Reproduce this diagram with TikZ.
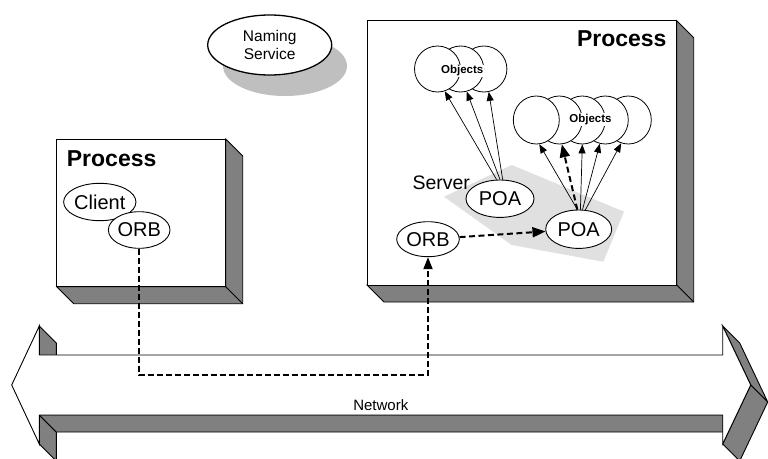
\documentclass[tikz,border=0pt]{standalone}
\usepackage{fontspec}
\setmainfont{Liberation Sans}
\usetikzlibrary{shapes.geometric,arrows.meta}

\tikzset{
    part/.style={ellipse, draw, fill=white, line width=0.9pt, inner sep=0pt, font=\fontsize{20}{24}\selectfont},
    obj/.style={ellipse, draw, fill=white, line width=0.8pt, minimum width=46pt, minimum height=46pt},
    objlabel/.style={fill=white, inner sep=1pt, font=\bfseries\fontsize{11.5}{13}\selectfont},
    title/.style={font=\bfseries\fontsize{23}{26}\selectfont, inner sep=0pt},
    callarrow/.style={-{Triangle[length=9pt,width=7pt]}, line width=0.7pt},
    bigroute/.style={-{Triangle[length=13pt,width=10pt]}, line width=2pt, dash pattern=on 6pt off 3.5pt},
    netroute/.style={-{Triangle[length=12pt,width=9pt]}, line width=1.8pt, dash pattern=on 6pt off 3pt}
}

\begin{document}
\begin{tikzpicture}[x=1pt,y=-1pt]
    \useasboundingbox (0,0) rectangle (768,458);
    \clip (0,0) rectangle (768,458);

    % Process boxes with their grey depth
    \foreach \xa/\ya/\xb/\yb in {56.7/139/225.7/286.7, 367/20.7/676.7/285} {
            \filldraw[fill=black!50, line width=0.9pt] (\xb,\ya) -- (\xb+17,\ya+17) -- (\xb+17,\yb+17) -- (\xa+17,\yb+17) -- (\xa,\yb) -- (\xb,\yb) -- cycle;
            \draw[line width=0.9pt] (\xb,\yb) -- (\xb+17,\yb+17);
            \filldraw[fill=white, line width=0.9pt] (\xa,\ya) rectangle (\xb,\yb);
        }
    \node[title, anchor=base west] (procL) at (66.7,166) {Process};
    \node[title, anchor=base east] (procR) at (666.7,46.7) {Process};

    % Server area
    \fill[black!12] (444,196.7) -- (511.7,165) -- (624,211.7) -- (603.3,261.7) -- (511.7,245) -- cycle;
    \node[anchor=base west, inner sep=0pt, font=\fontsize{19.5}{22}\selectfont] (server) at (412.3,189.3) {Server};

    % Naming service with its shadow
    \fill[black!25] (285,66) ellipse [x radius=62, y radius=30];
    \node[ellipse, draw, fill=white, line width=1.3pt, minimum width=124pt, minimum height=60pt,
        align=center, font=\fontsize{15.5}{18}\selectfont] (naming) at (269.7,45) {Naming\\Service};

    % Network arrow
    \filldraw[fill=black!50, line width=0.9pt] (39.3,326) -- (56.3,343) -- (56.3,372) -- (39.3,355) -- cycle;
    \filldraw[fill=black!50, line width=0.9pt] (39.3,415) -- (39.3,444) -- (56.3,461) -- (56.3,432) -- cycle;
    \filldraw[fill=black!50, line width=0.9pt] (39.3,415) -- (722.7,415) -- (722.7,432) -- (56.3,432) -- cycle;
    \filldraw[fill=black!50, line width=0.9pt] (722.7,326) -- (750.7,385) -- (767.7,402) -- (739.7,343) -- cycle;
    \filldraw[fill=black!50, line width=0.9pt] (750.7,385) -- (722.7,444) -- (739.7,461) -- (767.7,402) -- cycle;
    \filldraw[fill=white, line width=0.9pt] (11.7,385) -- (39.3,326) -- (39.3,355) -- (722.7,355) -- (722.7,326)
        -- (750.7,385) -- (722.7,444) -- (722.7,415) -- (39.3,415) -- (39.3,444) -- cycle;
    \node[anchor=base, inner sep=0pt, font=\fontsize{15}{18}\selectfont] (network) at (380.8,410) {Network};

    % Client side
    \node[part, minimum width=61.6pt, minimum height=37.4pt] (client) at (99.8,202) {Client};
    \node[part, minimum width=61.6pt, minimum height=36.6pt] (orbL) at (139.2,230) {ORB};

    % Server side
    \node[part, minimum width=62.6pt, minimum height=35pt] (orbR) at (428,239.2) {ORB};
    \node[part, minimum width=68pt, minimum height=37.4pt] (poaA) at (500,198.7) {POA};
    \node[part, minimum width=66pt, minimum height=38.4pt] (poaB) at (578.7,229.2) {POA};

    % Objects, left one in front
    \foreach \i in {3,2,1} {
            \node[obj] (oa\i) at ({414.3+23.2*\i},69) {};
        }
    \node[objlabel] (objA) at (462.2,71) {Objects};
    \foreach \i in {5,...,1} {
            \node[obj, minimum height=48pt] (ob\i) at ({513.3+23*\i},120) {};
        }
    \node[objlabel] (objB) at (590.5,119.3) {Objects};

    % Calls from the POAs
    \foreach \a/\i/\b in {100/1/-72, 90/2/-75, 82/3/-78} {
            \draw[callarrow] (poaA.\a) -- (oa\i.\b);
        }
    \foreach \a/\i/\b in {94/1/-83, 85/3/-90, 79/4/-103, 71/5/-107} {
            \draw[callarrow] (poaB.\a) -- (ob\i.\b);
        }
    \draw[bigroute] (poaB.94) -- (ob2.-84);
    \draw[bigroute] (orbR) -- (poaB);

    % Request over the network
    \coordinate (bend) at (0,375);
    \draw[netroute] (orbL.south) -- (orbL.south |- bend) -| (orbR.south);
\end{tikzpicture}
\end{document}
